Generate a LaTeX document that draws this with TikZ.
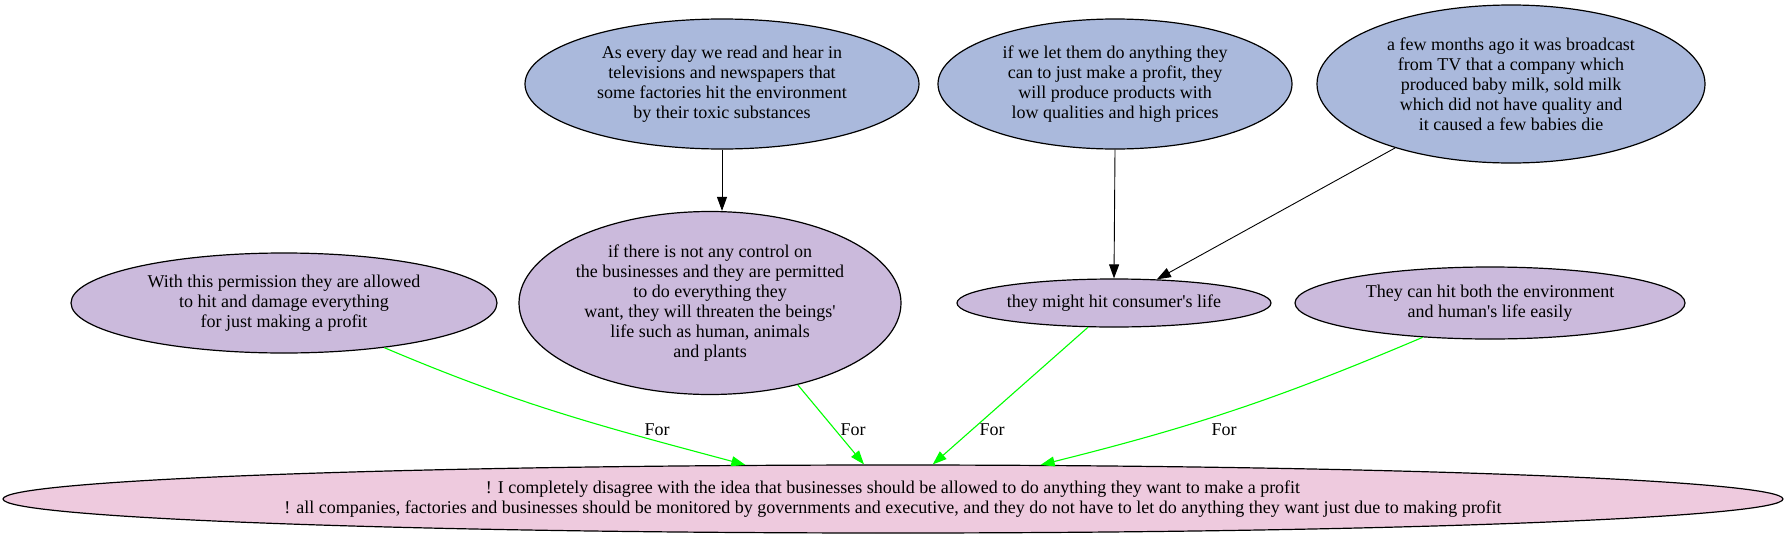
\documentclass[tikz,border=0pt]{standalone}
\usepackage{fontspec}
\setmainfont{Liberation Serif}
\usetikzlibrary{shapes.geometric,arrows.meta}
\definecolor{premisefill}{HTML}{AAB9DC}
\definecolor{reasonfill}{HTML}{CBBADC}
\definecolor{claimfill}{HTML}{EECADE}
\definecolor{forgreen}{HTML}{00FF00}
\newcommand{\apos}{\textquotesingle}

\begin{document}
\begin{tikzpicture}[x=1pt,y=1pt]
	\tikzset{argnode/.style={ellipse,draw,line width=1.2pt,inner sep=0pt,align=center,font=\fontsize{18}{20}\selectfont}}
	\tikzset{premise/.style={argnode,fill=premisefill}}
	\tikzset{reason/.style={argnode,fill=reasonfill}}
	\tikzset{claim/.style={argnode,fill=claimfill}}
	\tikzset{leads/.style={line width=0.9pt,-{Triangle[length=14pt,width=10pt]}}}
	\tikzset{support/.style={line width=1.1pt,draw=forgreen,-{Triangle[length=14pt,width=10pt,fill=forgreen]}}}
	\tikzset{forlabel/.style={inner sep=0pt,font=\fontsize{18}{20}\selectfont}}
	\useasboundingbox (0,0) rectangle (1789,-541);
	\node[premise,minimum width=394pt,minimum height=130pt] (every) at (722,-84)
		{As every day we read and hear in\\televisions and newspapers that\\some factories hit the environment\\by their toxic substances};
	\node[premise,minimum width=354pt,minimum height=130pt] (letthem) at (1115,-84)
		{if we let them do anything they\\can to just make a profit, they\\will produce products with\\low qualities and high prices};
	\node[premise,minimum width=388pt,minimum height=158pt] (broadcast) at (1511,-84)
		{a few months ago it was broadcast\\from TV that a company which\\produced baby milk, sold milk\\which did not have quality and\\it caused a few babies die};
	\node[reason,minimum width=426pt,minimum height=100pt] (permission) at (284,-303)
		{With this permission they are allowed\\to hit and damage everything\\for just making a profit};
	\node[reason,minimum width=382pt,minimum height=183pt] (control) at (710,-303)
		{if there is not any control on\\the businesses and they are permitted\\to do everything they\\want, they will threaten the beings\apos\\life such as human, animals\\and plants};
	\node[reason,minimum width=314pt,minimum height=48pt] (consumer) at (1114,-303)
		{they might hit consumer\apos s life};
	\node[reason,minimum width=390pt,minimum height=72pt] (both) at (1490,-303)
		{They can hit both the environment\\and human\apos s life easily};
	\node[claim,minimum width=1780pt,minimum height=68pt] (disagree) at (893,-499)
		{! I completely disagree with the idea that businesses should be allowed to do anything they want to make a profit\\! all companies, factories and businesses should be monitored by governments and executive, and they do not have to let do anything they want just due to making profit};
	\draw[leads] (every.south) -- (every.south |- control.north);
	\draw[leads] (letthem.south) -- (consumer.north);
	\draw[leads] (broadcast) -- (consumer);
	\draw[support] (permission.-24) to[out=-23,in=165] (disagree.167);
	\draw[support] (control.-43) -- (disagree.130.6);
	\draw[support] (consumer.-137) -- (disagree.41.2);
	\draw[support] (both.-153) to[out=-157,in=14] (disagree.13.4);
	\node[forlabel] (forpermission) at (657,-430) {For};
	\node[forlabel] (forcontrol) at (853,-430) {For};
	\node[forlabel] (forconsumer) at (992,-430) {For};
	\node[forlabel] (forboth) at (1224,-430) {For};
\end{tikzpicture}
\end{document}
